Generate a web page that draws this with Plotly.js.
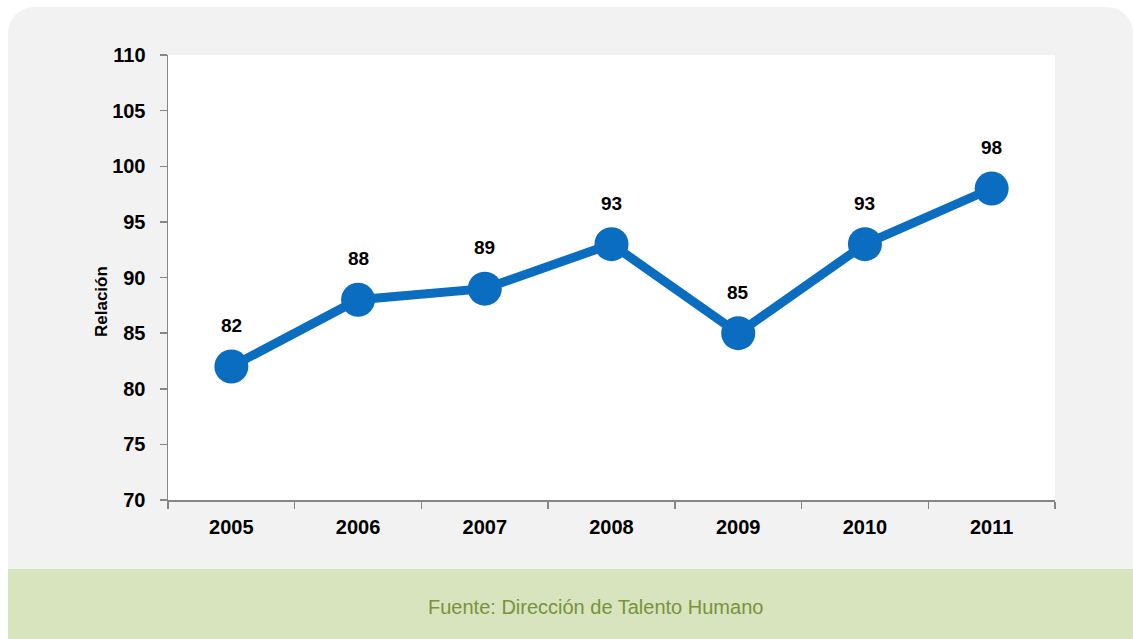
<!DOCTYPE html>
<html>
<head>
<meta charset="utf-8">
<script src="https://cdn.plot.ly/plotly-3.0.1.min.js"></script>
<style>
  html, body { margin: 0; padding: 0; background: #ffffff; }
  #wrap { position: relative; width: 1133px; height: 639px; overflow: hidden; background: #ffffff; }
  #panel { position: absolute; left: 8px; top: 7px; width: 1125px; height: 562px; background: #f2f2f2; border-radius: 26px 26px 0 0; }
  #footer { position: absolute; left: 8px; top: 569px; width: 1125px; height: 70px; background: #d7e4bd; }
  #chart { position: absolute; left: 0; top: 0; width: 1133px; height: 639px; }
</style>
</head>
<body>
<div id="wrap">
  <div id="panel"></div>
  <div id="footer"></div>
  <div id="chart"></div>
</div>
<script>
const years = ["2005", "2006", "2007", "2008", "2009", "2010", "2011"];
const relacion = [82, 88, 89, 93, 85, 93, 98];
const yTicks = [70, 75, 80, 85, 90, 95, 100, 105, 110];
const yTitle = "Relación";
const sourceText = "Fuente: Dirección de Talento Humano";

const FONT = '"Liberation Sans Narrow", "Arial Narrow", "Liberation Sans", Arial, sans-serif';
const BLUE = '#0b6dbf';

const W = 1133, H = 639;
const L = 168, R = 1055, T = 55, B = 500;
const px2x = p => (p - L) / (R - L);
const px2y = p => (B - p) / (B - T);

const trace = {
  x: years,
  y: relacion,
  type: 'scatter',
  mode: 'lines+markers',
  line: { color: BLUE, width: 9 },
  marker: { color: BLUE, size: 34 },
  hoverinfo: 'x+y',
  cliponaxis: false
};

const annotations = years.map((yr, i) => ({
  x: i, y: relacion[i], xref: 'x', yref: 'y',
  xanchor: 'center', yanchor: 'middle',
  text: '<b>' + relacion[i] + '</b>',
  showarrow: false, yshift: 41,
  font: { family: FONT, size: 19, color: '#000000' }
}));
annotations.push({
  xref: 'paper', yref: 'paper', x: px2x(101), y: px2y(302),
  xanchor: 'center', yanchor: 'middle',
  text: '<b>' + yTitle + '</b>', textangle: -90, showarrow: false,
  font: { family: FONT, size: 17, color: '#000000' }
});
annotations.push({
  xref: 'paper', yref: 'paper', x: px2x(595), y: px2y(607),
  xanchor: 'center', yanchor: 'middle',
  text: sourceText, showarrow: false,
  font: { family: FONT, size: 20, color: '#77933c' }
});

const layout = {
  width: W, height: H,
  margin: { l: L, r: W - R, t: T, b: H - B, pad: 0 },
  paper_bgcolor: 'rgba(0,0,0,0)',
  plot_bgcolor: '#ffffff',
  showlegend: false,
  xaxis: {
    type: 'category',
    tickson: 'boundaries',
    ticks: 'outside', ticklen: 7, tickwidth: 1.5, tickcolor: '#868686',
    showline: true, linecolor: '#868686', linewidth: 1.5,
    showgrid: false, zeroline: false,
    ticklabelstandoff: 8,
    tickfont: { family: FONT, size: 20, color: '#000000', weight: 'bold' },
    range: [-0.5, 6.5]
  },
  yaxis: {
    range: [70, 110],
    tickvals: yTicks,
    ticktext: yTicks.map(String),
    ticks: 'outside', ticklen: 7, tickwidth: 1.5, tickcolor: '#868686',
    showline: true, linecolor: '#868686', linewidth: 1.5,
    showgrid: false, zeroline: false,
    ticklabelstandoff: 10,
    tickfont: { family: FONT, size: 20, color: '#000000', weight: 'bold' }
  },
  annotations: annotations
};

Plotly.newPlot('chart', [trace], layout, { displayModeBar: false, staticPlot: true });
</script>
</body>
</html>
